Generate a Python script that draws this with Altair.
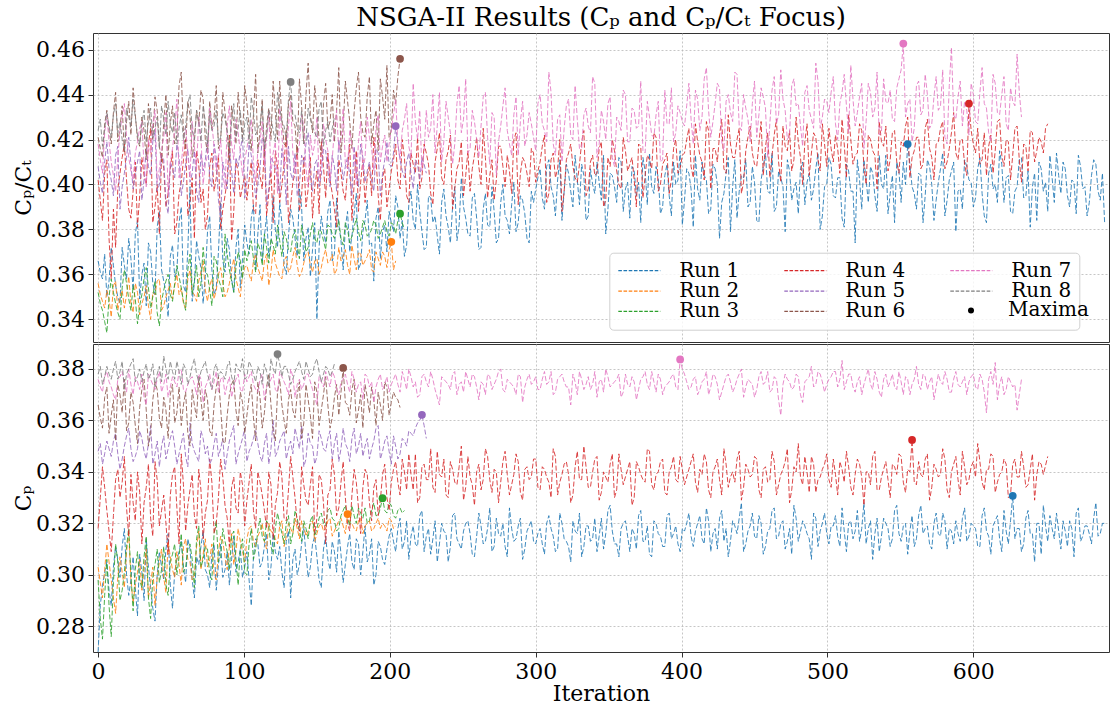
import altair as alt
import pandas as pd

# ---------------- data (values in thousandths) ----------------
# *_RUNk   : readings at iterations 0, 3, 6, ...
# *_RUNk_M : readings at the iterations in between (1.5, 4.5, 7.5, ...)
RUNS = ["Run 1", "Run 2", "Run 3", "Run 4", "Run 5", "Run 6", "Run 7", "Run 8"]
RUN_COLORS = ["#1f77b4", "#ff7f0e", "#2ca02c", "#d62728", "#9467bd", "#8c564b", "#e377c2", "#7f7f7f"]
MAXIMA_LABEL = "Maxima"
ITER_STEP = 3
X_TICKS = [0, 100, 200, 300, 400, 500, 600]
TOP_TICKS = [0.34, 0.36, 0.38, 0.40, 0.42, 0.44, 0.46]
BOT_TICKS = [0.28, 0.30, 0.32, 0.34, 0.36, 0.38]
X_DOMAIN = [-3.5, 693]
TOP_DOMAIN = [0.3299, 0.4674]
BOT_DOMAIN = [0.2700, 0.3897]
TITLE = "NSGA-II Results (C\u209a and C\u209a/C\u209c Focus)"
TOP_YTITLE = "C\u209a/C\u209c"
BOT_YTITLE = "C\u209a"
X_TITLE = "Iteration"

# ---- C_P / C_T ----
TOP_RUN1 = [366, 358, 350, 372, 355, 347, 364, 376, 353, 384, 360, 346, 370, 351, 388, 357, 341, 373, 361, 390, 352, 399, 356, 368, 347, 379, 362, 354, 392, 361, 371, 352, 380, 367,
            374, 385, 362, 391, 377, 368, 395, 372, 383, 360, 389, 376, 398, 366, 381, 371, 340, 386, 374, 393, 369, 382, 362, 388, 377, 396, 365, 384, 373, 357, 390, 379, 370,
            383, 395, 376, 368, 391, 384, 400, 379, 372, 394, 386, 369, 398, 381, 390, 375, 403, 385, 377, 396, 371, 389, 382, 399, 374, 392, 386, 378, 401, 383, 393, 376, 397,
            398, 407, 389, 411, 395, 402, 384, 409, 397, 413, 391, 404, 386, 400, 410, 393, 378, 405, 399, 412, 388, 401, 408, 395, 383, 406, 414, 396, 403, 390,
            409, 386, 400, 415, 393, 405, 381, 398, 410, 402, 389, 407, 376, 396, 412, 399, 385, 404, 411, 392, 401, 383, 408, 397, 414, 390, 403, 379, 406, 398,
            387, 410, 401, 393, 407, 380, 399, 412, 395, 403, 385, 409, 397, 374, 402, 411, 392, 405, 388, 400, 413, 396, 383, 406, 410, 418, 399, 389, 404, 395,
            408, 384, 401, 414, 393, 406, 379, 398, 411, 402, 390, 407, 396, 383, 409, 400, 415, 392, 404, 387, 399, 412, 395, 381, 405, 410, 397, 388, 403, 414,
            396, 407, 390, 401, 413, 398, 386, 404, 409, 393, 383]
TOP_RUN1_M = [361, 369, 357, 364, 350, 372, 358, 367, 378, 349, 365, 374, 356, 381, 362, 352, 368, 359, 383, 355, 371, 348, 375, 363, 359, 386, 351, 370, 366, 376, 358, 372, 354, 382,
              369, 391, 378, 366, 386, 373, 380, 392, 364, 377, 385, 368, 390, 376, 359, 383, 372, 379, 388, 366, 394, 375, 381, 370, 387, 362, 379, 393, 374, 385, 367, 382, 388,
              379, 390, 384, 373, 397, 380, 388, 371, 395, 383, 377, 392, 386, 374, 399, 382, 390, 378, 394, 385, 372, 396, 381, 388, 376, 400, 384, 391, 379, 395, 387, 374, 392,
              403, 394, 408, 399, 386, 411, 397, 405, 390, 402, 409, 384, 407, 396, 401, 413, 389, 404, 392, 410, 398, 385, 406, 401, 412, 391, 399, 408, 387, 404,
              395, 410, 402, 382, 407, 398, 413, 393, 404, 387, 409, 400, 392, 405, 379, 411, 397, 403, 390, 408, 384, 402, 414, 396, 388, 406, 399, 411, 393, 401,
              407, 391, 405, 398, 414, 386, 400, 409, 394, 403, 381, 406, 397, 411, 389, 402, 408, 395, 413, 398, 387, 404, 410, 392, 400, 409, 396, 405, 383, 411,
              400, 393, 407, 386, 402, 410, 397, 389, 408, 401, 394, 412, 386, 405, 398, 392, 409, 403, 388, 397, 411, 394, 406, 399, 384, 407, 401, 413, 392, 404,
              410, 395, 402, 387, 408, 399, 392, 411, 397, 405]
TOP_RUN2 = [356, 348, 353, 341, 357, 350, 345, 359, 343, 352, 347, 355, 340, 351, 358, 346, 353,
            349, 360, 354, 345, 362, 351, 357, 366, 348, 358, 353, 363, 350, 356, 367, 354, 360,
            364, 357, 369, 360, 366, 355, 371, 362, 358, 368, 363, 372, 359, 365, 370, 361, 367,
            363, 371, 366, 360, 372, 368, 364, 373, 362, 369, 366, 371, 361, 367, 370, 363, 374.5, 366]
TOP_RUN2_M = [351, 345, 349, 355, 344, 353, 351, 347, 356, 342, 350, 346, 352, 357, 344, 350, 356,
              355, 351, 347, 358, 352, 348, 361, 353, 355, 349, 360, 356, 352, 362, 358, 350, 363,
              360, 366, 363, 357, 369, 361, 365, 359, 366, 361, 368, 364, 361, 369, 364, 366, 360,
              368, 365, 369, 362, 366, 371, 360, 367, 370, 364, 368, 362, 370, 364, 368, 371, 362]
TOP_RUN3 = [352, 344, 334, 358, 347, 340, 362, 349, 355, 338, 351, 363, 345, 357, 337, 353, 360,
            348, 364, 354, 344, 369, 357, 350, 372, 360, 346, 366, 355, 378, 362, 352, 370, 358,
            366, 375, 361, 371, 378, 365, 373, 382, 368, 376, 370, 380, 367, 377, 372, 383, 374,
            379, 371, 381, 376, 384, 373, 380, 377, 385, 375, 382, 378, 384, 376, 381, 379, 383, 378, 387, 380]
TOP_RUN3_M = [347, 339, 350, 352, 343, 354, 356, 344, 349, 346, 358, 354, 350, 343, 348, 357, 351,
              356, 359, 348, 362, 351, 364, 356, 361, 353, 368, 358, 350, 369, 357, 363, 366, 371,
              371, 367, 374, 364, 372, 376, 369, 375, 379, 371, 377, 373, 382, 370, 378, 376, 380,
              375, 382, 378, 380, 376, 383, 374, 381, 379, 384, 377, 380, 382, 378, 384, 377, 382, 384, 383]
TOP_RUN4 = [402, 384, 411, 358, 372, 405, 418, 389, 397, 381, 412, 400, 425, 390, 378, 407, 396, 415, 383, 401, 420, 392, 376, 409, 398, 386, 414, 403, 380, 395, 422, 388, 406, 399,
            393, 410, 387, 404, 416, 396, 383, 408, 400, 424, 391, 405, 388, 412, 398, 385, 406, 419, 394, 402, 389, 411, 397, 407, 384, 415, 401, 392, 409, 421, 395, 403, 390,
            406, 418, 398, 412, 392, 409, 421, 403, 414, 396, 410, 423, 400, 415, 389, 407, 419, 404, 397, 413, 408, 425, 394, 411, 402, 417, 399, 406, 420, 391, 412, 405, 416,
            401, 410, 422, 396, 414, 407, 388, 411, 418, 403, 409, 424, 398, 413, 405, 419, 393, 408, 415, 400, 421, 406, 412, 390, 417, 404, 411, 423, 397, 409, 414, 402, 420, 407,
            414, 425, 403, 419, 410, 428, 398, 416, 422, 407, 431, 412, 420, 396, 415, 426, 409, 418, 404, 423, 413, 429, 401, 417, 424, 411, 419, 400, 427, 414, 421, 406, 418,
            425, 410, 416, 429, 403, 420, 413, 427, 408, 422, 415, 398, 419, 426, 411, 424, 405, 417, 430, 412, 421, 407, 425, 416, 402, 419, 428, 410, 423, 414, 420, 409, 436,
            418, 425, 411, 404, 422, 415, 429, 408, 419, 413, 426, 401, 417, 424, 410, 421, 414, 427]
TOP_RUN4_M = [393, 405, 376, 389, 398, 412, 402, 385, 410, 395, 404, 418, 383, 400, 414, 390, 407, 378, 396, 411, 386, 403, 415, 392, 380, 408, 397, 413, 389, 402, 375, 410, 394, 404,
              402, 389, 411, 398, 386, 406, 415, 392, 409, 383, 401, 417, 395, 390, 412, 399, 387, 408, 414, 396, 381, 405, 393, 418, 400, 388, 411, 403, 395, 412, 384, 407, 398,
              411, 402, 420, 395, 414, 405, 398, 418, 409, 391, 416, 403, 411, 422, 398, 410, 395, 415, 407, 421, 400, 412, 404, 393, 417, 408, 413, 396, 423, 405, 410, 399, 414,
              406, 417, 392, 411, 403, 420, 397, 414, 408, 401, 419, 395, 410, 404, 416, 390, 412, 420, 406, 398, 415, 409, 402, 418, 394, 413, 407, 421, 400, 411, 396, 416, 405, 413,
              420, 408, 427, 413, 402, 424, 416, 410, 429, 405, 418, 412, 425, 401, 421, 414, 408, 428, 417, 403, 422, 410, 426, 415, 406, 430, 412, 419, 404, 423, 411, 427, 408,
              416, 422, 405, 418, 431, 409, 414, 424, 400, 420, 413, 428, 417, 406, 423, 410, 419, 426, 403, 415, 421, 409, 429, 412, 418, 425, 407, 416, 432, 411, 420, 404, 424, 414,
              409, 423, 417, 405, 428, 413, 420, 402, 425, 411, 418, 406, 423, 415, 419, 425]
TOP_RUN5 = [408, 396, 419, 402, 413, 389, 405, 421, 398, 410, 393, 416, 404, 424, 400, 411, 387, 407, 418, 395, 409, 401, 415, 392, 406, 420,
            399, 412, 385, 404, 417, 396, 408, 422, 401, 413, 394, 407, 419, 398, 410, 403, 416, 391, 405, 414, 400, 409, 423, 397, 411, 404,
            415, 399, 408, 420, 402, 412, 395, 406, 418, 401, 410, 397, 414, 405, 419, 408, 426, 411, 403, 414, 398, 409, 412, 405]
TOP_RUN5_M = [401, 410, 407, 395, 417, 399, 412, 409, 404, 415, 402, 408, 419, 397, 413, 392, 410, 403, 412, 401, 416, 405, 397, 414, 411, 403,
              418, 393, 410, 398, 406, 412, 415, 394, 418, 405, 400, 421, 391, 412, 407, 396, 409, 417, 402, 395, 413, 418, 404, 409, 399, 416,
              406, 413, 397, 411, 408, 404, 417, 399, 412, 406, 402, 416, 395, 411, 409, 414, 418, 406, 410, 405, 411, 402, 409]
TOP_RUN6 = [421, 412, 433, 418, 441, 425, 414, 437, 443, 420, 430, 411, 426, 439, 417, 428, 413, 435, 422, 450, 416, 431, 419, 427,
            438, 414, 425, 444, 419, 432, 410, 427, 441, 421, 436, 415, 449, 424, 412, 434, 446, 420, 429, 417, 440, 426, 447, 418,
            454, 423, 433, 413, 445, 428, 419, 452, 425, 437, 416, 443, 430, 421, 448, 427, 415, 439, 453, 424, 436, 455.9]
TOP_RUN6_M = [416, 427, 424, 432, 419, 435, 428, 422, 431, 417, 424, 436, 420, 433, 410, 440, 427, 418, 444, 423, 437, 412, 433, 442,
              420, 437, 430, 416, 441, 423, 435, 418, 429, 444, 425, 431, 414, 438, 426, 420, 432, 446, 418, 436, 428, 413, 435, 440,
              431, 444, 420, 436, 425, 440, 433, 414, 446, 428, 432, 450, 423, 439, 418, 433, 447, 429, 421, 442, 448]
TOP_RUN7 = [418, 405, 431, 410, 397, 424, 436, 412, 402, 419, 428, 399, 414, 433, 407, 421, 395, 416, 438, 409, 426, 403, 417, 430, 400, 413, 427, 406, 420, 398, 435, 411, 423, 404,
            416, 429, 401, 419, 408, 432, 414, 396, 422, 411, 437, 405, 418, 426, 399, 413, 430, 409, 420, 402, 425, 415, 434, 407, 418, 400, 428, 412, 421, 406, 431, 417, 410,
            424, 438, 411, 429, 417, 445, 420, 406, 433, 425, 414, 441, 419, 430, 409, 436, 423, 447, 416, 428, 412, 439, 421, 432, 404, 426, 443, 418, 431, 413, 437, 422, 427,
            415, 440, 424, 450, 418, 429, 410, 435, 422, 444, 416, 431, 426, 448, 412, 433, 420, 439, 408, 428, 442, 419, 434, 425, 446, 414, 430, 421, 437, 411, 427, 443, 423, 432,
            426, 445, 418, 438, 430, 452, 421, 436, 443, 415, 440, 428, 449, 424, 434, 419, 446, 431, 439, 412, 442, 427, 451, 433, 422, 447, 436, 417, 444, 429, 454, 425, 438,
            432, 448, 420, 441, 435, 453, 426, 439, 416, 445, 430, 450, 423, 437, 442, 428, 447, 462.7, 436, 419, 444, 431, 449, 425, 439, 433, 451, 418, 461, 429, 446, 437, 422,
            440, 427, 452, 434, 419, 445, 431, 448, 424, 437, 458, 430]
TOP_RUN7_M = [411, 423, 419, 404, 412, 430, 421, 406, 414, 425, 408, 420, 427, 401, 416, 432, 410, 424, 403, 419, 413, 428, 407, 421, 409, 434, 417, 412, 405, 426, 418, 429, 414, 411,
              423, 410, 415, 428, 421, 405, 419, 434, 408, 426, 414, 412, 431, 407, 422, 418, 403, 427, 415, 411, 433, 420, 409, 424, 413, 419, 406, 430, 416, 425, 410, 422, 418,
              431, 418, 424, 436, 412, 428, 433, 415, 421, 440, 426, 410, 437, 423, 418, 444, 429, 414, 433, 420, 426, 441, 409, 430, 419, 435, 424, 413, 439, 428, 417, 432, 421,
              436, 427, 419, 441, 413, 431, 425, 438, 420, 429, 416, 434, 423, 445, 418, 428, 436, 412, 430, 424, 440, 419, 433, 426, 415, 437, 422, 431, 410, 442, 427, 419, 435, 428,
              435, 429, 442, 424, 447, 433, 428, 445, 419, 437, 432, 450, 426, 440, 429, 436, 421, 443, 434, 427, 448, 431, 438, 420, 444, 435, 426, 441, 433, 425, 446, 430, 437,
              441, 427, 436, 449, 423, 438, 432, 445, 428, 441, 434, 422, 447, 436, 429, 443, 451, 430, 438, 425, 446, 433, 440, 427, 448, 435, 421, 444, 431, 439, 426,
              433, 445, 428, 441, 436, 423, 449, 432, 440, 427, 443, 435, 441]
TOP_RUN8 = [424, 417, 432, 421, 436, 428, 415, 430, 438, 422, 427, 419, 434, 425, 416, 429, 437, 423, 418, 431, 426, 440, 420, 428, 435, 418, 424, 433,
            421, 429, 416, 436, 425, 419, 430, 439, 422, 427, 417, 433, 424, 441, 428, 420, 445.6, 431, 423, 418, 434, 426, 421, 437, 424, 419, 430]
TOP_RUN8_M = [429, 425, 426, 431, 423, 420, 434, 426, 430, 418, 433, 428, 421, 430, 435, 422, 427, 432, 425, 420, 436, 424, 433, 419, 428, 431, 426, 419,
              432, 424, 428, 421, 433, 427, 418, 432, 425, 435, 421, 430, 419, 434, 426, 438, 431, 425, 433, 420, 429, 423, 434, 417, 428, 425]

# ---- C_P ----
BOT_RUN1 = [270, 296, 305, 288, 311, 299, 318, 292, 307, 284, 301, 314, 295, 282, 309, 298, 316,
            287, 306, 313, 297, 310, 291, 304, 317, 300, 308, 294, 312, 302, 296, 315, 305, 299,
            309, 288, 314, 303, 311, 298, 316, 306, 301, 313, 291, 310, 304, 318, 299, 312, 307, 295, 315, 302, 309, 317, 297, 311, 305, 314, 300, 319, 308, 296, 313, 306, 310,
            318, 309, 322, 313, 306, 319, 311, 325, 315, 308, 321, 312, 317, 305, 323, 314, 310, 320, 316, 307, 324, 312, 318, 309, 322, 315, 311, 326, 313, 319, 306, 317, 321,
            312, 318, 308, 323, 315, 310, 320, 313, 305, 317, 324, 311, 319, 314, 309, 322, 316, 327, 312, 307, 320, 315, 318, 310, 325, 313, 308, 321, 316, 311, 323, 314, 319, 309,
            317, 324, 311, 320, 314, 326, 309, 318, 322, 313, 307, 321, 316, 328, 312, 319, 315, 323, 308, 317, 325, 314, 320, 310, 318, 327, 313, 321, 316, 306, 322, 317, 324,
            312, 319, 315, 326, 309, 321, 317, 313, 328, 318, 306, 322, 315, 320, 311, 325, 316, 319, 308, 323, 314, 327, 318, 312, 320, 316, 324, 310, 317, 321, 313, 326, 315,
            319, 311, 323, 317, 308, 321, 314, 325, 312, 330.7, 318, 309, 322, 316, 305, 320, 327, 313, 318, 324, 310, 317, 321, 307, 326, 315, 319, 312, 328, 316, 320]
BOT_RUN1_M = [288, 301, 294, 303, 306, 311, 300, 298, 295, 308, 290, 303, 287, 300, 303, 310, 296,
              301, 309, 303, 314, 298, 307, 311, 302, 295, 312, 304, 299, 309, 306, 301, 310, 303,
              298, 307, 312, 305, 316, 303, 309, 311, 295, 317, 306, 300, 312, 308, 303, 315, 298, 310, 306, 313, 301, 308, 304, 316, 302, 312, 309, 305, 314, 300, 311, 304, 315,
              313, 318, 310, 321, 315, 312, 323, 309, 318, 314, 305, 320, 316, 311, 324, 312, 317, 321, 308, 315, 319, 313, 326, 311, 316, 320, 307, 318, 314, 322, 310, 319, 313,
              316, 312, 320, 318, 309, 324, 314, 311, 321, 316, 307, 319, 313, 322, 315, 310, 325, 317, 312, 318, 321, 309, 316, 323, 313, 319, 307, 320, 315, 311, 324, 316, 312, 318,
              320, 315, 317, 323, 312, 321, 316, 310, 325, 318, 313, 319, 322, 309, 317, 324, 314, 320, 311, 318, 326, 315, 321, 313, 308, 322, 317, 319, 314, 324, 311, 320, 316,
              319, 323, 311, 317, 320, 314, 325, 318, 312, 321, 316, 309, 322, 318, 314, 327, 313, 320, 317, 311, 323, 316, 319, 310, 324, 315, 321, 318, 312,
              316, 322, 313, 320, 318, 311, 326, 315, 319, 323, 309, 317, 321, 314, 318, 312, 325, 316, 320, 308, 319, 323, 314, 317, 321, 311, 318, 324, 313, 319, 316, 322, 315, 320]
BOT_RUN2 = [303, 291, 312, 298, 285, 307, 295, 316, 289, 301, 294, 310, 297, 288, 305, 299, 313,
            302, 309, 296, 314, 305, 300, 317, 308, 303, 312, 298, 315, 307, 311, 304, 318, 309,
            314, 319, 311, 317, 313, 320, 316, 312, 321, 315, 318, 322, 314, 319, 317, 321, 316,
            320, 318, 322, 317, 321, 319, 323.6, 320, 317, 322, 319, 321, 318, 322, 320, 317, 321, 319]
BOT_RUN2_M = [297, 302, 305, 291, 299, 301, 309, 298, 296, 306, 302, 291, 303, 299, 310, 293, 307,
              299, 304, 311, 306, 298, 311, 302, 314, 306, 300, 309, 313, 302, 316, 309, 313, 305,
              318, 313, 315, 320, 310, 317, 314, 319, 311, 320, 316, 318, 321, 315, 320, 313, 319,
              317, 321, 315, 319, 322, 316, 320, 318, 321, 316, 320, 317, 320, 318, 319, 322, 318]
BOT_RUN3 = [298, 275, 306, 276, 312, 290, 301, 318, 286, 309, 295, 315, 283, 304, 297, 311, 292,
            308, 300, 316, 303, 312, 295, 319, 306, 310, 298, 321, 307, 313, 302, 317, 296, 314,
            300, 318, 310, 322, 313, 319, 308, 324, 316, 320, 312, 325, 317, 321, 314, 323, 318,
            324, 319, 326, 321, 318, 325, 322, 327, 320, 324, 326, 321, 328, 323, 329.8, 324, 327, 322, 326, 325]
BOT_RUN3_M = [283, 292, 288, 297, 305, 294, 311, 300, 302, 298, 307, 291, 299, 310, 302, 296, 305,
              312, 307, 301, 310, 306, 314, 303, 311, 300, 316, 305, 318, 309, 315, 306, 310, 301,
              312, 306, 317, 315, 321, 311, 318, 320, 312, 323, 316, 322, 313, 318, 321, 315, 322,
              320, 325, 322, 317, 323, 327, 319, 323, 326, 322, 320, 325, 323, 326, 325, 328, 323, 325, 324]
BOT_RUN4 = [318, 342, 325, 309, 337, 330, 346, 315, 328, 340, 312, 334, 322, 344, 319, 331, 308, 339, 326, 347, 317, 333, 323, 341, 314, 329, 336, 320, 345, 327, 311, 338, 324, 335,
            329, 343, 318, 336, 325, 340, 314, 332, 338, 321, 346, 330, 317, 335, 327, 342, 322, 337, 312, 333, 339, 326, 344, 320, 331, 336, 316, 341, 328, 334, 323, 339, 330,
            336, 344, 331, 340, 347, 333, 328, 342, 337, 349, 332, 339, 345, 330, 341, 335, 350, 334, 338, 327, 343, 337, 346, 332, 340, 336, 348, 331, 339, 344, 329, 342, 338,
            345, 333, 341, 336, 349, 331, 339, 344, 328, 342, 337, 350, 334, 340, 346, 332, 338, 343, 330, 347, 335, 341, 327, 344, 339, 336, 348, 333, 340, 345, 331, 342, 337, 346,
            335, 341, 347, 332, 339, 344, 330, 342, 337, 349, 334, 340, 345, 329, 343, 338, 346, 333, 341, 336, 348, 331, 339, 344, 328, 342, 351, 335, 340, 346, 332, 338, 343,
            337, 345, 331, 341, 348, 334, 339, 343, 327, 340, 346, 333, 338, 344, 330, 342, 347, 336, 341, 352.4, 335, 339, 345, 329, 343, 338, 349, 333, 340, 346, 331, 342, 337,
            344, 351, 336, 341, 347, 332, 339, 345, 330, 343, 338, 348, 334, 341, 329, 344, 339, 346]
BOT_RUN4_M = [330, 334, 317, 323, 341, 336, 326, 339, 321, 332, 328, 343, 315, 337, 325, 320, 331, 342, 312, 335, 327, 339, 318, 333, 324, 345, 316, 330, 338, 322, 334, 326, 340, 319,
              336, 325, 340, 331, 318, 335, 327, 344, 322, 333, 338, 320, 342, 329, 335, 316, 339, 328, 331, 345, 323, 336, 330, 317, 341, 326, 334, 339, 321, 337, 329, 343, 325,
              341, 336, 345, 333, 339, 347, 330, 343, 337, 334, 348, 338, 331, 344, 336, 342, 329, 346, 335, 340, 333, 349, 337, 341, 328, 344, 339, 335, 347, 332, 341, 337, 345,
              334, 342, 338, 330, 346, 336, 343, 339, 331, 348, 337, 342, 334, 345, 329, 340, 336, 347, 333, 341, 338, 344, 330, 342, 337, 349, 335, 339, 344, 332, 340, 346, 336, 341,
              338, 344, 336, 341, 347, 333, 340, 345, 331, 343, 338, 336, 348, 334, 341, 339, 345, 330, 342, 337, 344, 335, 341, 349, 333, 340, 338, 346, 332, 343, 337, 341, 347,
              334, 339, 344, 336, 342, 331, 345, 338, 340, 335, 348, 333, 341, 337, 343, 339, 346, 332, 340, 336, 344, 338, 347, 334, 341, 339, 345, 330, 343, 337, 348, 335, 342, 338,
              344, 333, 341, 346, 336, 340, 343, 331, 345, 338, 342, 335, 347, 339, 343]
BOT_RUN5 = [348, 343, 352, 346, 355, 341, 350, 357, 344, 349, 353, 345, 358, 347, 342, 354, 349, 356, 343, 351, 346, 359, 348, 344, 353, 350,
            345, 355, 349, 341, 352, 358, 347, 353, 344, 350, 356, 346, 351, 343, 360, 348, 354, 345, 352, 357, 349, 342, 355, 350, 346, 353,
            348, 356, 351, 344, 357, 349, 353, 347, 355, 350, 345, 352, 358, 348, 354, 343, 350, 347, 352, 356, 354, 359, 362.2, 353]
BOT_RUN5_M = [351, 347, 349, 352, 347, 345, 354, 349, 346, 356, 348, 351, 343, 352, 350, 345, 353, 350, 347, 355, 342, 351, 346, 356, 347, 343,
              351, 346, 353, 347, 355, 343, 350, 357, 348, 353, 351, 344, 355, 349, 346, 352, 356, 349, 347, 353, 358, 345, 351, 343, 356, 349,
              353, 345, 355, 349, 351, 344, 357, 350, 346, 353, 349, 357, 345, 352, 348, 354, 345, 353, 350, 355, 357, 360, 358]
BOT_RUN6 = [366, 357, 373, 362, 352, 370, 376, 359, 367, 351, 372, 364, 355, 375, 361, 369, 353, 374, 363, 358, 371, 350, 366, 377,
            360, 368, 354, 373, 365, 351, 370, 376, 358, 367, 362, 374, 352, 369, 363, 378, 356, 371, 366, 355, 372, 361, 375, 359,
            368, 353, 371, 364, 377, 357, 369, 362, 380.4, 366, 372, 359, 370, 374, 363, 368, 371, 360, 373, 367, 369, 365]
BOT_RUN6_M = [361, 369, 355, 368, 374, 363, 356, 371, 358, 365, 376, 350, 368, 372, 357, 364, 370, 359, 373, 366, 355, 372, 361, 368,
              372, 356, 366, 377, 352, 362, 374, 364, 371, 355, 369, 361, 375, 357, 373, 366, 352, 376, 360, 368, 364, 370, 353, 374,
              362, 375, 358, 370, 366, 361, 374, 371, 367, 362, 376, 364, 357, 369, 373, 358, 366, 375, 362, 371, 368]
BOT_RUN7 = [376, 371, 379, 373, 368, 377, 374, 380, 370, 375, 378, 366, 376, 372, 379, 374, 369, 377, 373, 380, 371, 376, 374, 378, 367, 375, 372, 379, 376, 370, 377, 373, 378, 371,
            375, 379, 372, 376, 368, 374, 378, 371, 377, 373, 380, 369, 376, 374, 378, 372, 366, 375, 379, 373, 377, 370, 376, 374, 379, 371, 375, 378, 373, 367, 376, 372, 377,
            374, 378, 371, 376, 380, 373, 369, 377, 375, 379, 372, 366, 376, 374, 378, 370, 375, 379, 373, 377, 368, 374, 378, 372, 376, 380, 371, 375, 373, 378, 367, 376, 374,
            377, 372, 379, 375, 370, 376, 378, 373, 366, 375, 379, 372, 377, 374, 369, 376, 380, 373, 375, 378, 371, 374, 377, 368, 376, 379, 372, 375, 378, 370, 374, 377, 373, 383.7,
            378, 372, 376, 370, 375, 379, 373, 377, 368, 374, 378, 371, 376, 380, 373, 375, 369, 377, 374, 379, 372, 376, 362, 378, 375, 373, 377, 367, 376, 381, 374, 378, 371,
            376, 379, 373, 383.3, 375, 378, 371, 377, 374, 380, 372, 376, 369, 378, 375, 373, 379, 370, 376, 374, 381, 372, 377, 375, 368, 378, 374, 376, 371, 379, 373, 377, 375,
            378, 372, 376, 363, 379, 382.5, 374, 370, 377, 373, 364, 376]
BOT_RUN7_M = [373, 377, 375, 370, 376, 379, 371, 374, 377, 372, 369, 378, 374, 376, 371, 378, 373, 375, 379, 372, 374, 377, 370, 376, 373, 378, 375, 371, 377, 374, 369, 376, 372, 378,
              377, 374, 371, 378, 373, 376, 372, 379, 375, 370, 377, 374, 372, 378, 375, 369, 377, 373, 376, 379, 372, 375, 378, 371, 376, 374, 368, 377, 375, 373, 378, 374, 371,
              376, 374, 379, 372, 377, 375, 370, 378, 373, 376, 369, 377, 375, 372, 379, 374, 371, 376, 378, 373, 375, 370, 377, 374, 379, 372, 376, 374, 370, 377, 373, 378, 375,
              372, 376, 374, 379, 371, 377, 375, 373, 378, 370, 376, 374, 372, 379, 375, 371, 377, 374, 376, 369, 378, 373, 375, 372, 377, 374, 379, 371, 376, 373, 375, 378, 372, 380,
              375, 373, 377, 372, 376, 370, 378, 374, 371, 377, 375, 373, 378, 369, 376, 374, 372, 379, 375, 371, 377, 368, 374, 376, 372, 378, 370, 375, 377, 373, 379, 375, 374,
              377, 379, 376, 372, 378, 373, 375, 370, 377, 374, 379, 371, 376, 373, 378, 372, 375, 377, 370, 376, 374, 378, 372, 377, 373, 375, 379, 371, 376, 374,
              375, 370, 377, 373, 378, 371, 376, 374, 368, 377, 372, 375, 374]
BOT_RUN8 = [378, 374, 381, 376, 383, 379, 372, 380, 384, 377, 375, 382, 378, 373, 381, 385, 376, 379, 383, 374, 380, 377, 384, 375, 381, 378, 372, 382,
            379, 376, 383, 374, 380, 384, 377, 381, 375, 379, 382, 373, 380, 385.8, 377, 381, 374, 379, 383, 376, 380, 378, 384, 375, 381, 377, 382]
BOT_RUN8_M = [381, 377, 378, 380, 376, 383, 378, 382, 375, 380, 379, 376, 382, 378, 375, 380, 383, 376, 379, 382, 374, 381, 378, 379, 383, 375, 380, 377,
              378, 381, 377, 382, 379, 376, 383, 378, 381, 374, 379, 384, 378, 382, 381, 378, 376, 381, 379, 383, 377, 382, 379, 378, 380, 379]

TOP_SERIES = [TOP_RUN1, TOP_RUN2, TOP_RUN3, TOP_RUN4, TOP_RUN5, TOP_RUN6, TOP_RUN7, TOP_RUN8]
TOP_MIDS = [TOP_RUN1_M, TOP_RUN2_M, TOP_RUN3_M, TOP_RUN4_M, TOP_RUN5_M, TOP_RUN6_M, TOP_RUN7_M, TOP_RUN8_M]
BOT_SERIES = [BOT_RUN1, BOT_RUN2, BOT_RUN3, BOT_RUN4, BOT_RUN5, BOT_RUN6, BOT_RUN7, BOT_RUN8]
BOT_MIDS = [BOT_RUN1_M, BOT_RUN2_M, BOT_RUN3_M, BOT_RUN4_M, BOT_RUN5_M, BOT_RUN6_M, BOT_RUN7_M, BOT_RUN8_M]


def build(series_list, mid_list):
    rows = []
    for run, vals, mids in zip(RUNS, series_list, mid_list):
        for i, v in enumerate(vals):
            rows.append({"iteration": i * ITER_STEP, "value": v / 1000.0, "run": run})
            if i < len(vals) - 1 and i < len(mids):
                rows.append({"iteration": i * ITER_STEP + ITER_STEP / 2.0, "value": mids[i] / 1000.0, "run": run})
    df = pd.DataFrame(rows)
    mx = df.loc[df.groupby("run")["value"].idxmax()].reset_index(drop=True)
    mx["kind"] = MAXIMA_LABEL
    return df, mx


top_df, top_max = build(TOP_SERIES, TOP_MIDS)
bot_df, bot_max = build(BOT_SERIES, BOT_MIDS)

FONT = "DejaVu Serif"
PAD4 = "\u00a0\u00a0\u00a0\u00a0"

color_legend = alt.Legend(
    title=None, orient="none", legendX=516.3, legendY=219.7, columns=3,
    values=RUNS,
    symbolType="stroke", symbolSize=1764, clipHeight=20, symbolDash=[3.6, 1.6],
    symbolStrokeWidth=1.2, symbolOpacity=1, labelFont=FONT, labelFontSize=20, labelOffset=18,
    columnPadding=44, rowPadding=0.35, padding=8,
    fillColor="rgba(255,255,255,0.8)", strokeColor="#d0d0d0", cornerRadius=4,
    labelColor="black", zindex=2,
    labelExpr="(datum.label == 'Run 7' || datum.label == 'Run 8') ? datum.label + '" + PAD4 + "' : datum.label",
)
shape_legend = alt.Legend(
    title=None, orient="none", legendX=868, legendY=267.4, padding=0,
    symbolSize=36, clipHeight=20, symbolFillColor="black", symbolStrokeColor="black",
    symbolStrokeWidth=0, symbolOpacity=1, labelFont=FONT, labelFontSize=20, labelOffset=27,
    labelColor="black", zindex=3,
)


def panel(df, mx, ydomain, yticks, ytitle, bottom, show_legend, height):
    x = alt.X(
        "iteration:Q",
        scale=alt.Scale(domain=X_DOMAIN, nice=False, zero=False),
        axis=alt.Axis(
            values=X_TICKS, grid=True, domain=False,
            labels=bottom, ticks=bottom, title=X_TITLE if bottom else None,
            tickSize=5, labelPadding=4.5, titleY=41, titleBaseline="middle",
            minExtent=52 if bottom else 0, maxExtent=52 if bottom else 0,
        ),
    )
    y = alt.Y(
        "value:Q",
        scale=alt.Scale(domain=ydomain, nice=False, zero=False),
        axis=alt.Axis(
            values=yticks, format=".2f", grid=True, domain=False, title=ytitle,
            tickSize=5, labelPadding=3.5, titleX=-70, titleBaseline="middle",
            minExtent=92, maxExtent=92,
        ),
    )
    cscale = alt.Scale(domain=RUNS, range=RUN_COLORS)
    if show_legend:
        color = alt.Color("run:N", scale=cscale, legend=color_legend)
        shape = alt.Shape("kind:N", scale=alt.Scale(domain=[MAXIMA_LABEL], range=["circle"]), legend=shape_legend)
    else:
        color = alt.Color("run:N", scale=cscale, legend=None)
        shape = alt.Shape("kind:N", scale=alt.Scale(domain=[MAXIMA_LABEL], range=["circle"]), legend=None)
    layers = []
    for run in RUNS:
        layers.append(
            alt.Chart(df)
            .transform_filter(alt.datum.run == run)
            .mark_line(strokeDash=[5, 2.2], strokeWidth=1.0, opacity=0.85, clip=True)
            .encode(x=x, y=y, color=color)
        )
    layers.append(
        alt.Chart(mx).mark_point(size=60, filled=True, opacity=1, clip=True)
        .encode(x=x, y=y, color=color, shape=shape)
    )
    return alt.layer(*layers).properties(width=1016, height=height)


top = panel(top_df, top_max, TOP_DOMAIN, TOP_TICKS, TOP_YTITLE, False, True, 309).properties(
    title=alt.TitleParams(text=TITLE, font=FONT, fontSize=26, fontWeight="normal",
                          anchor="middle", frame="group", offset=2, color="black")
)
bottom = panel(bot_df, bot_max, BOT_DOMAIN, BOT_TICKS, BOT_YTITLE, True, False, 308)

chart = (
    alt.vconcat(top, bottom, spacing=0)
    .resolve_scale(color="independent", shape="independent", x="independent", y="independent")
    .resolve_legend(color="independent", shape="independent")
    .properties(padding={"left": 0, "top": 4, "right": 0, "bottom": 0})
    .configure(font=FONT)
    .configure_view(stroke="#333333", strokeWidth=1)
    .configure_axis(
        labelFont=FONT, titleFont=FONT, labelFontSize=22, titleFontSize=22,
        labelColor="black", titleColor="black", titleFontWeight="normal",
        tickColor="#333333", gridColor="#b8b8b8", gridDash=[2, 2], gridWidth=0.8,
    )
)

chart.save("out.html", embed_options={"renderer": "svg", "actions": False})
